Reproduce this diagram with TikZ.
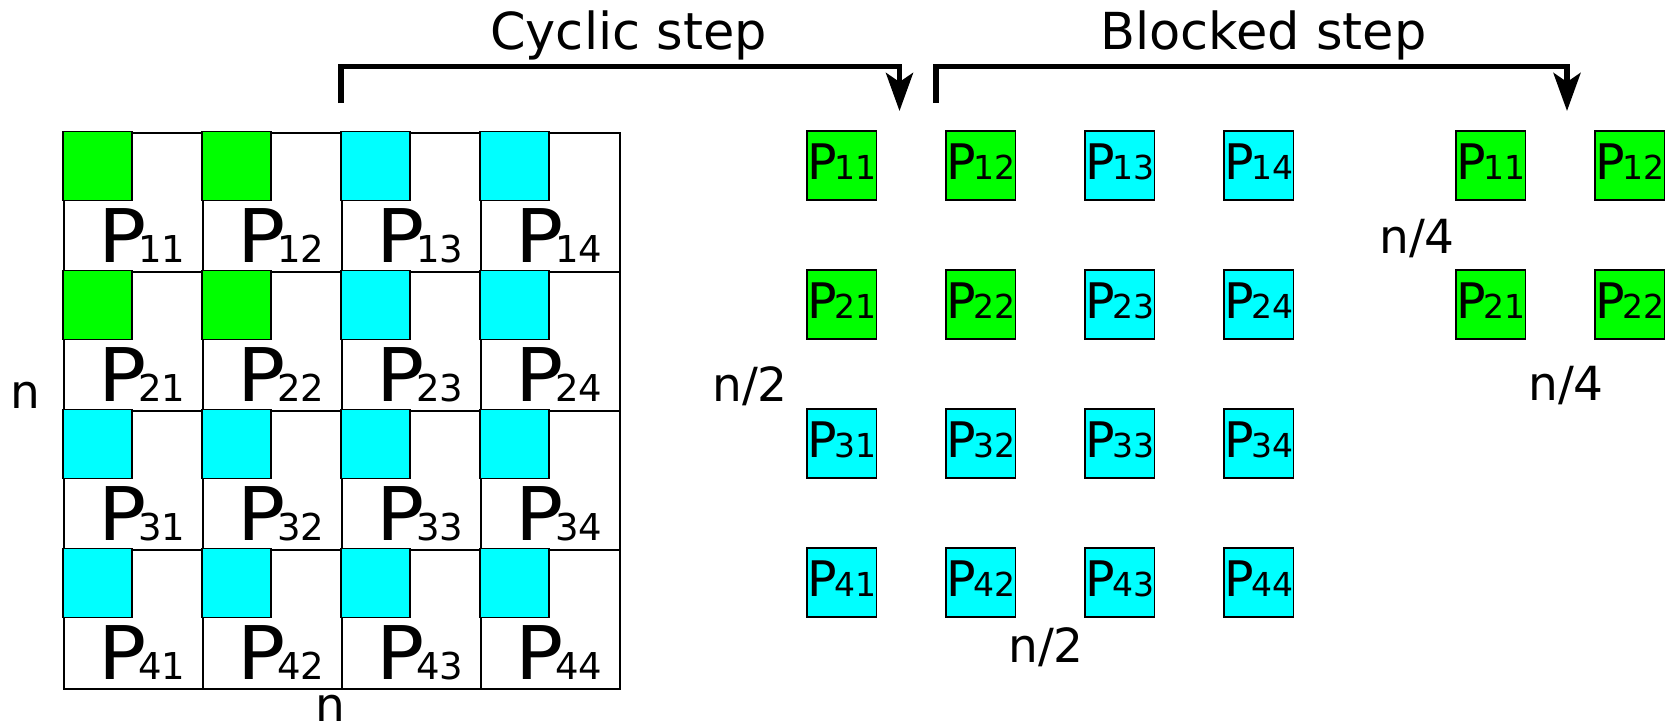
\documentclass[tikz,border=0pt]{standalone}
\usepackage{fontspec}
\setmainfont{DejaVu Sans}
\usetikzlibrary{arrows.meta}
\definecolor{blockgreen}{HTML}{00FF00}
\definecolor{blockcyan}{HTML}{00FFFF}
\newcommand\fsz[1]{\fontsize{#1}{#1}\selectfont}
\newcommand\wideP{\scalebox{1.08}[1]{P}}

\begin{document}
\begin{tikzpicture}[x=1pt,y=-1pt,
  gridcell/.style={draw=black, line width=2pt, minimum width=139pt, minimum height=139pt,
    inner sep=0pt, anchor=north west},
  tile/.style={draw=black, line width=1.6pt, minimum width=69pt, minimum height=69pt,
    inner sep=0pt, outer sep=0pt, anchor=north west},
  ptile/.style={tile, font=\fsz{49}, text height=36pt, text depth=9pt},
  glabel/.style={anchor=base west, inner sep=0pt, font=\fsz{74}},
  dimlabel/.style={anchor=base west, inner sep=0pt, font=\fsz{47}},
  title/.style={anchor=base west, inner sep=0pt, font=\fsz{51}},
  bracket/.style={line width=5.5pt, line join=miter,
    -{Stealth[length=38pt,width=27pt,inset=9pt]}}
]
\useasboundingbox[fill=white] (0,0) rectangle (1668,725);

% full n x n matrix, one cell per process, cyclic ownership
\foreach \r in {1,...,4}{
  \foreach \c in {1,...,4}{
    \pgfmathsetmacro\cx{63+139*(\c-1)}
    \pgfmathsetmacro\cy{132+139*(\r-1)}
    \node[gridcell] (cell\r\c) at (\cx,\cy) {};
  }
}
\foreach \r in {1,...,4}{
  \foreach \c in {1,...,4}{
    \pgfmathsetmacro\cx{63+139*(\c-1)}
    \pgfmathsetmacro\cy{132+139*(\r-1)}
    \pgfmathtruncatemacro\isg{(\r<3)&&(\c<3)}
    \ifnum\isg=1 \def\tcol{blockgreen}\else\def\tcol{blockcyan}\fi
    \node[tile, fill=\tcol] (gt\r\c) at (\cx,\cy-0.5) {};
    \node[glabel] (gl\r\c) at (\cx+35,\cy+130) {\wideP\kern-8pt{\fsz{37}\r\c}};
  }
}

% process grid after the cyclic step
\foreach \r in {1,...,4}{
  \foreach \c in {1,...,4}{
    \pgfmathsetmacro\cx{807+139*(\c-1)}
    \pgfmathsetmacro\cy{131+139*(\r-1)}
    \pgfmathtruncatemacro\isg{(\r<3)&&(\c<3)}
    \ifnum\isg=1 \def\tcol{blockgreen}\else\def\tcol{blockcyan}\fi
    \node[ptile, fill=\tcol] (m\r\c) at (\cx,\cy) {P\kern-2pt{\fsz{33}\r\c}};
  }
}

% one block after the blocked step
\foreach \r in {1,2}{
  \foreach \c in {1,2}{
    \pgfmathsetmacro\cx{1456+139*(\c-1)}
    \pgfmathsetmacro\cy{131+139*(\r-1)}
    \node[ptile, fill=blockgreen] (q\r\c) at (\cx,\cy) {P\kern-2pt{\fsz{33}\r\c}};
  }
}

% dimension labels
\node[dimlabel] (dimL) at (10,408) {n};
\node[dimlabel] (dimB) at (315,721) {n};
\node[dimlabel] (halfL) at (712,401) {n/2};
\node[dimlabel] (halfB) at (1008,662) {n/2};
\node[dimlabel] (quartL) at (1379,253) {n/4};
\node[dimlabel] (quartB) at (1528,400) {n/4};

% step titles and brackets
\node[title] (cyctitle) at (490,49) {Cyclic step};
\node[title] (blktitle) at (1100,49) {Blocked step};

\coordinate (cycfrom) at (341,103);
\coordinate (cycto) at (899.5,111);
\coordinate (blkfrom) at (936,103);
\coordinate (blkto) at (1567,111);

\draw[bracket] (cycfrom) |- (cycto |- 0,66.5) -- (cycto);
\draw[bracket] (blkfrom) |- (blkto |- 0,66.5) -- (blkto);
\end{tikzpicture}
\end{document}
